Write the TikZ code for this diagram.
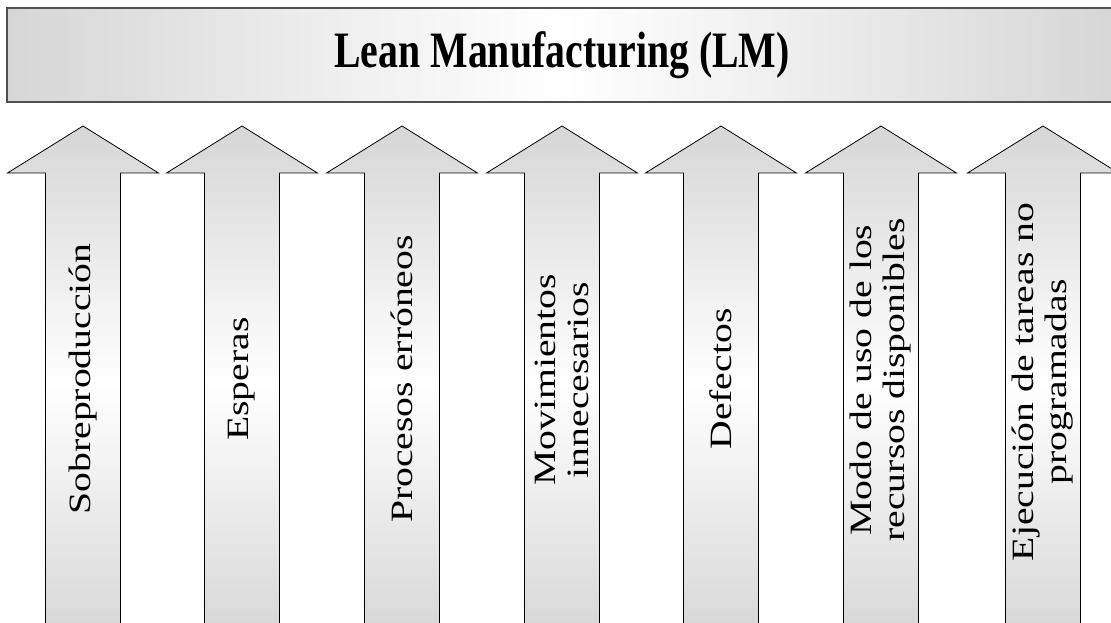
\documentclass[tikz,border=0pt]{standalone}
\usepackage{fontspec}
\setmainfont{Liberation Serif}
\usepackage{xcolor}
\usepackage{tikz}

\definecolor{shade}{RGB}{214,214,214}
\definecolor{frame}{RGB}{80,80,80}

\begin{document}
\begin{tikzpicture}[x=0.75pt,y=-0.75pt]
	\tikzstyle{banner}=[draw=frame,line width=1.1pt,left color=shade,right color=shade,middle color=white]
	\tikzstyle{waste}=[draw=black,line width=0.6pt,top color=shade,bottom color=shade,middle color=white]
	\tikzstyle{cause}=[rotate=90,xscale=1.28,align=center,inner sep=0pt,font=\fontsize{23.25}{24.75}\selectfont]
	\useasboundingbox (0,0) rectangle (1111,623);
	\clip (0,0) rectangle (1111,623);
	% header bar
	\draw[banner] (7,8) rectangle (1118,102);
	\node[xscale=0.78,font=\fontsize{38.25}{40}\selectfont\bfseries] (lm) at (562,55) {Lean Manufacturing (LM)};
	% the seven wastes
	\draw[waste] (83,126) -- ++(75.5,47) -- ++(-38,0) -- ++(0,467) -- ++(-75,0) -- ++(0,-467) -- ++(-38,0) -- cycle;
	\draw[waste] (242,126) -- ++(75.5,47) -- ++(-38,0) -- ++(0,467) -- ++(-75,0) -- ++(0,-467) -- ++(-38,0) -- cycle;
	\draw[waste] (402,126) -- ++(75.5,47) -- ++(-38,0) -- ++(0,467) -- ++(-75,0) -- ++(0,-467) -- ++(-38,0) -- cycle;
	\draw[waste] (562,126) -- ++(75.5,47) -- ++(-38,0) -- ++(0,467) -- ++(-75,0) -- ++(0,-467) -- ++(-38,0) -- cycle;
	\draw[waste] (721,126) -- ++(75.5,47) -- ++(-38,0) -- ++(0,467) -- ++(-75,0) -- ++(0,-467) -- ++(-38,0) -- cycle;
	\draw[waste] (881,126) -- ++(75.5,47) -- ++(-38,0) -- ++(0,467) -- ++(-75,0) -- ++(0,-467) -- ++(-38,0) -- cycle;
	\draw[waste] (1043,126) -- ++(75.5,47) -- ++(-38,0) -- ++(0,467) -- ++(-75,0) -- ++(0,-467) -- ++(-38,0) -- cycle;
	\node[cause] (w1) at (83,379) {Sobreproducción};
	\node[cause] (w2) at (242,379) {Esperas};
	\node[cause] (w3) at (402,379) {Procesos erróneos};
	\node[cause] (w4) at (562,380) {Movimientos\\innecesarios};
	\node[cause] (w5) at (721,379) {Defectos};
	\node[cause] (w6) at (881,380) {Modo de uso de los\\recursos disponibles};
	\node[cause] (w7) at (1043,382) {Ejecución de tareas no\\programadas};
\end{tikzpicture}
\end{document}
